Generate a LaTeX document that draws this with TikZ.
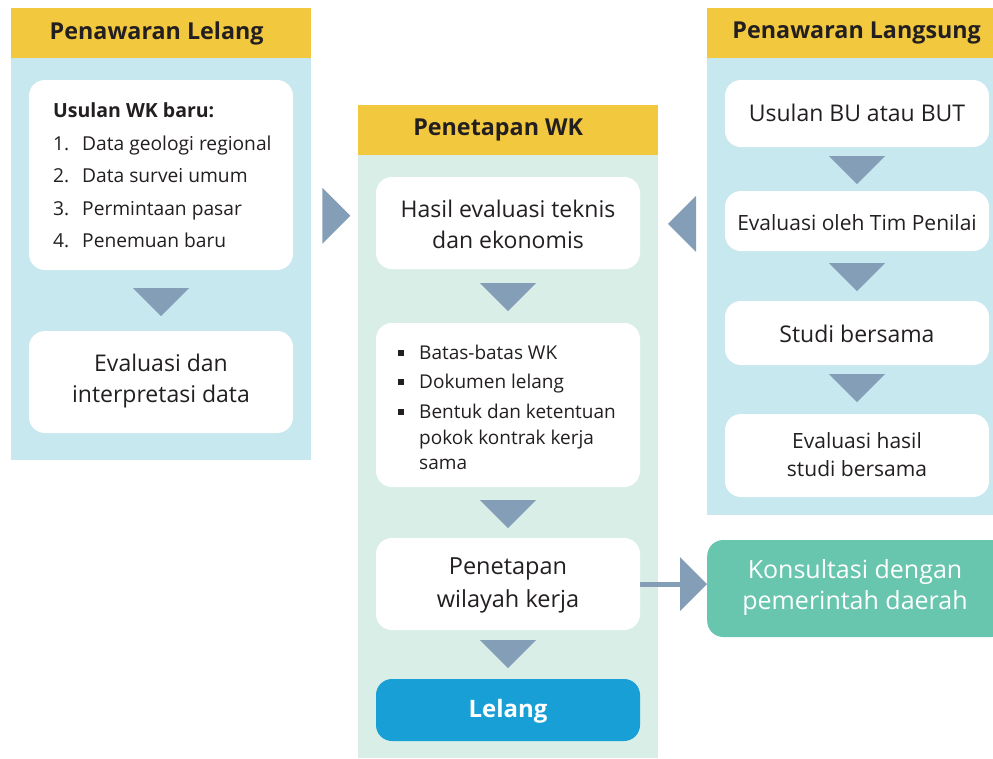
\documentclass[tikz,border=0pt]{standalone}
\usepackage{fontspec}
\setmainfont{Open Sans}
\usetikzlibrary{calc}
\definecolor{hdr}{HTML}{F2C93E}
\definecolor{lblue}{HTML}{C8E8EF}
\definecolor{lgreen}{HTML}{D9EEE7}
\definecolor{trico}{HTML}{859EB8}
\definecolor{lelangc}{HTML}{189FD6}
\definecolor{tealc}{HTML}{68C6AE}
\definecolor{txt}{HTML}{231F20}
\begin{document}
\begin{tikzpicture}[x=1pt,y=-1pt,
  panel/.style={fill=#1, draw=none, inner sep=0pt, anchor=north west},
  hdrbox/.style={fill=hdr, draw=none, inner sep=0pt, anchor=north west, minimum height=50pt,
     font=\fontsize{23.3}{27}\selectfont\bfseries, text=txt},
  wbox/.style={fill=white, draw=none, rounded corners=16pt, inner sep=0pt, minimum width=264pt},
  big/.style={font=\fontsize{23}{31}\selectfont, text=txt, align=center, inner sep=0pt},
  mid/.style={font=\fontsize{21}{28}\selectfont, text=txt, align=center, inner sep=0pt},
  small/.style={font=\fontsize{19.2}{22}\selectfont, text=txt, inner sep=0pt, anchor=base west},
  bul/.style={font=\fontsize{19}{22}\selectfont, text=txt, inner sep=0pt, anchor=base west},
  tri/.style={fill=trico, draw=none}
]
\path[use as bounding box] (0,0) rectangle (993,758);

% ---------- left panel ----------
\node[panel=lblue, minimum width=300pt, minimum height=402pt] (lpanel) at (11,58) {};
\node[hdrbox, minimum width=300pt] (lhead) at (11,8) {\hspace*{-9pt}Penawaran Lelang};

\node[wbox, minimum height=190pt] (l1) at (161,175) {};
\node[small, font=\fontsize{19.5}{22}\selectfont\bfseries] (lt0) at (53,117.5) {Usulan WK baru:};
\node[small] (ln1) at (53,150.5) {1.};
\node[small] (lt1) at (82,150.5) {Data geologi regional};
\node[small] (ln2) at (53,182.5) {2.};
\node[small] (lt2) at (82,182.5) {Data survei umum};
\node[small] (ln3) at (53,215) {3.};
\node[small] (lt3) at (82,215) {Permintaan pasar};
\node[small] (ln4) at (53,247.5) {4.};
\node[small] (lt4) at (82,247.5) {Penemuan baru};

\node[wbox, minimum height=102pt] (l2) at (161,382) {};
\node[big] (l2t) at (161,381) {Evaluasi dan\\interpretasi data};

\fill[tri] ($(l1.south)+(-28,18)$) -- ($(l1.south)+(28,18)$) -- ($(l1.south)+(0,46)$) -- cycle;

% ---------- middle panel ----------
\node[panel=lgreen, minimum width=300pt, minimum height=603pt] (mpanel) at (358,155) {};
\node[hdrbox, minimum width=300pt] (mhead) at (358,105) {\hspace*{-20pt}Penetapan WK};

\node[wbox, minimum height=92pt] (m1) at (508,223) {};
\node[big] (m1t) at (508,224) {Hasil evaluasi teknis\\dan ekonomis};

\node[wbox, minimum height=164pt] (m2) at (508,405) {};
\fill[txt] (398,349.5) rectangle ++(6,6);
\fill[txt] (398,378.5) rectangle ++(6,6);
\fill[txt] (398,408.5) rectangle ++(6,6);
\node[bul] (mb1) at (419,359) {Batas-batas WK};
\node[bul] (mb2) at (419,388) {Dokumen lelang};
\node[bul] (mb3) at (419,418) {Bentuk dan ketentuan};
\node[bul] (mb4) at (419,444) {pokok kontrak kerja};
\node[bul] (mb5) at (419,469) {sama};

\node[wbox, minimum height=92pt] (m3) at (508,584) {};
\node[big, font=\fontsize{23.5}{33}\selectfont] (m3t) at (508,585) {Penetapan\\wilayah kerja};

\node[wbox, fill=lelangc, minimum height=62pt] (m4) at (508,710) {};
\node[big, text=white, font=\fontsize{24}{27}\selectfont\bfseries] (m4t) at (508,711) {Lelang};

\fill[tri] ($(m1.south)+(-28,14)$) -- ($(m1.south)+(28,14)$) -- ($(m1.south)+(0,42)$) -- cycle;
\fill[tri] ($(m2.south)+(-28,13)$) -- ($(m2.south)+(28,13)$) -- ($(m2.south)+(0,41)$) -- cycle;
\fill[tri] ($(m3.south)+(-28,10)$) -- ($(m3.south)+(28,10)$) -- ($(m3.south)+(0,38)$) -- cycle;

% ---------- right panel ----------
\node[panel=lblue, minimum width=286pt, minimum height=457pt] (rpanel) at (707,58) {};
\node[hdrbox, minimum width=286pt] (rhead) at (707,8) {\hspace*{13pt}Penawaran Langsung};

\node[wbox, minimum height=67pt] (r1) at (857,113.5) {};
\node[big] (r1t) at (857,113) {Usulan BU atau BUT};
\node[wbox, minimum height=60pt] (r2) at (857,221) {};
\node[mid] (r2t) at (857,223) {Evaluasi oleh Tim Penilai};
\node[wbox, minimum height=64pt] (r3) at (857,333) {};
\node[big] (r3t) at (857,334) {Studi bersama};
\node[wbox, minimum height=83pt] (r4) at (857,455.5) {};
\node[mid] (r4t) at (857,455) {Evaluasi hasil\\studi bersama};

\fill[tri] ($(r1.south)+(-28,9)$) -- ($(r1.south)+(28,9)$) -- ($(r1.south)+(0,37)$) -- cycle;
\fill[tri] ($(r2.south)+(-28,12)$) -- ($(r2.south)+(28,12)$) -- ($(r2.south)+(0,40)$) -- cycle;
\fill[tri] ($(r3.south)+(-28,9)$) -- ($(r3.south)+(28,9)$) -- ($(r3.south)+(0,37)$) -- cycle;

% ---------- side arrows ----------
\fill[tri] ($(lpanel.east|-l1.north)+(11,108)$) -- ++(0,56) -- ++(28,-28) -- cycle;
\fill[tri] ($(rpanel.west|-r1.north)+(-11,116)$) -- ++(0,56) -- ++(-28,-28) -- cycle;

% ---------- konsultasi ----------
\node[wbox, fill=tealc, minimum width=300pt, minimum height=97pt, anchor=west] (k) at (707,588.5) {};
\node[big, text=white, font=\fontsize{25}{31}\selectfont] (kt) at (855,587) {Konsultasi dengan\\pemerintah daerah};
\coordinate (kin) at ($(k.west|-m3.east)+(-27,0)$);
\draw[trico, line width=5pt] (m3.east) -- ($(kin)+(1,0)$);
\fill[tri] ($(kin)+(0,-27)$) -- ($(kin)+(0,27)$) -- ($(kin)+(27,0)$) -- cycle;
\end{tikzpicture}
\end{document}
